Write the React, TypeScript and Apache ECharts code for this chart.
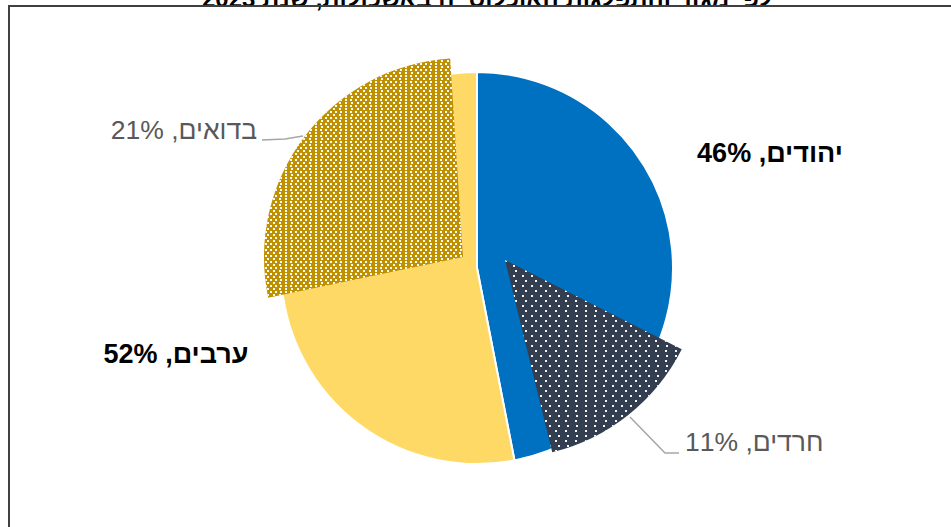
import React, { useEffect, useRef } from 'react';
import * as echarts from 'echarts';

const titleText = 'לפי מגזר והתפלגות האוכלוסייה באשכולות, שנת 2023';

const mainCategories = ['יהודים', 'ערבים'];
const mainValues = [46, 52];

const subCategories = ['חרדים', 'בדואים'];
const subValues = [11, 21];
// wedge geometry (degrees, clockwise from 12 o'clock)
const subStartDeg = [116.8, 258.2];
const subSpanDeg = [49.4, 98.1];

const FONT = '"Liberation Sans", Arial, "DejaVu Sans", sans-serif';
const mainColors = ['#0070C0', '#FFD966'];
const subColors = ['#333F50', '#BF9000'];
const subCenters = [[505, 260], [463, 257]];
const subRadius = [198, 199];
const mainLabelPos = [
  { x: 770, y: 153 },
  { x: 176, y: 354 },
];
const subLabelPos = [
  { x: 685, y: 442, align: 'left', line: [[630, 417], [665, 453], [679, 453]] },
  { x: 257, y: 130, align: 'right', line: [[303, 136], [285, 139], [262, 140]] },
];
const subDecals = [
  { symbol: 'rect', symbolSize: 1, color: 'rgba(255,255,255,0.95)', dashArrayX: [[2, 7], [0, 4.5, 2, 2.5]], dashArrayY: [2, 2.6] },
  { symbol: 'rect', symbolSize: 1, color: 'rgba(255,255,255,0.95)', dashArrayX: [[2, 3], [0, 2.5, 2, 0.5]], dashArrayY: [2, 1] },
];

const rtl = (s: string) => '\u202B' + s + '\u202C';

export default function App() {
  const ref = useRef<HTMLDivElement>(null);
  useEffect(() => {
    if (!ref.current) return;
    const chart = echarts.init(ref.current, null, { renderer: 'svg' });
    const subSeries = subCategories.map((name, i) => ({
      type: 'pie',
      center: subCenters[i],
      radius: subRadius[i],
      startAngle: 90,
      clockwise: true,
      silent: true,
      avoidLabelOverlap: false,
      z: 3,
      itemStyle: { borderWidth: 0 },
      labelLayout: (p: any) => {
        if (p.dataIndex !== 1) return {};
        const l = subLabelPos[i];
        return { x: l.x, y: l.y, align: l.align, verticalAlign: 'middle', labelLinePoints: l.line };
      },
      data: [
        { value: subStartDeg[i], name: 'gapA' + i, itemStyle: { color: 'rgba(0,0,0,0)' }, label: { show: false }, labelLine: { show: false } },
        {
          value: subSpanDeg[i],
          name,
          itemStyle: { color: subColors[i], decal: subDecals[i] },
          label: {
            show: true,
            position: 'outside',
            formatter: () => rtl(`${name}, ${subValues[i]}%`),
            fontFamily: FONT,
            fontSize: 26.5,
            color: '#595959',
          },
          labelLine: { show: true, lineStyle: { color: '#A6A6A6', width: 1.5 } },
        },
        { value: 360 - subStartDeg[i] - subSpanDeg[i], name: 'gapB' + i, itemStyle: { color: 'rgba(0,0,0,0)' }, label: { show: false }, labelLine: { show: false } },
      ],
    }));
    chart.setOption({
      animation: false,
      graphic: [
        {
          type: 'text',
          x: 487,
          y: 10,
          z: 10,
          style: { text: titleText, fill: '#000', font: `bold 24px ${FONT}`, align: 'center', verticalAlign: 'bottom' },
        },
        {
          type: 'rect',
          z: 11,
          shape: { x: 9, y: 6, width: 1000, height: 600 },
          style: { fill: 'none', stroke: '#404040', lineWidth: 2 },
        },
      ],
      series: [
        {
          type: 'pie',
          center: [477, 268],
          radius: 196,
          startAngle: 90,
          clockwise: true,
          silent: true,
          avoidLabelOverlap: false,
          z: 2,
          itemStyle: { borderColor: '#ffffff', borderWidth: 2 },
          label: {
            show: true,
            position: 'outside',
            formatter: (p: any) => rtl(`${p.name}, ${p.value}%`),
            fontFamily: FONT,
            fontSize: 27,
            fontWeight: 'bold',
            color: '#000',
          },
          labelLine: { show: false },
          labelLayout: (p: any) => ({ ...mainLabelPos[p.dataIndex], align: 'center', verticalAlign: 'middle' }),
          data: mainCategories.map((n, i) => ({ name: n, value: mainValues[i], itemStyle: { color: mainColors[i] } })),
        },
        ...subSeries,
      ],
    });
    return () => chart.dispose();
  }, []);
  return <div ref={ref} style={{ position: 'absolute', left: 0, top: 0, width: 951, height: 527 }} />;
}
